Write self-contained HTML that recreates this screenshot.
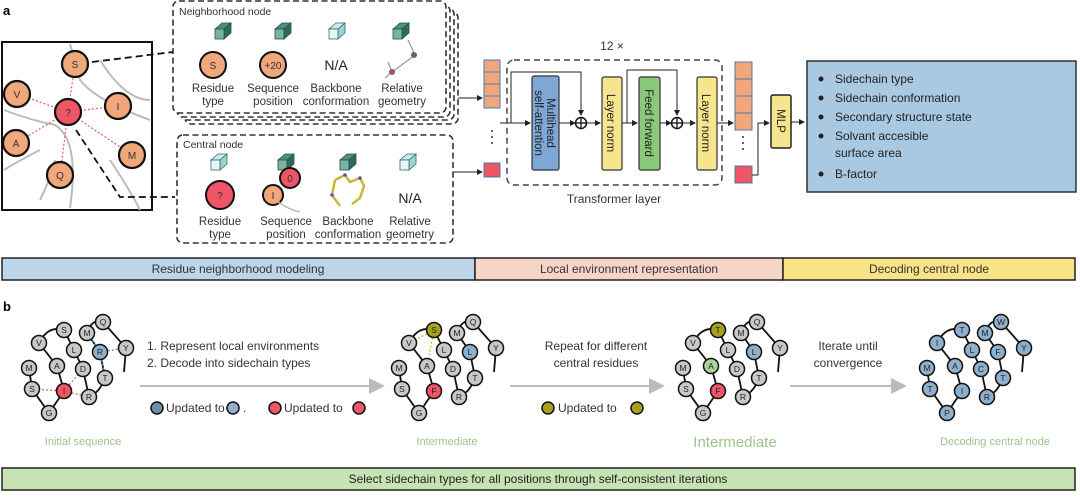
<!DOCTYPE html>
<html><head><meta charset="utf-8"><style>
body{margin:0;background:#fff}
svg{display:block;font-family:"Liberation Sans",sans-serif}
</style></head><body>
<svg width="1080" height="497" viewBox="0 0 1080 497" xmlns="http://www.w3.org/2000/svg">
<defs>
<g id="cube"><polygon points="-7,-3 0,-9 9,-9 2,-3" fill="#4f8f7f" stroke="#24524a" stroke-width="0.8"/><polygon points="2,-3 9,-9 9,1 2,7" fill="#2f6b5d" stroke="#24524a" stroke-width="0.8"/><rect x="-7" y="-3" width="9" height="10" fill="#7ab3a4" stroke="#24524a" stroke-width="0.8"/></g>
<g id="cubeL"><polygon points="-7,-3 0,-9 9,-9 2,-3" fill="#cfe9ea" stroke="#2e6d74" stroke-width="0.8"/><polygon points="2,-3 9,-9 9,1 2,7" fill="#9fd1d3" stroke="#2e6d74" stroke-width="0.8"/><rect x="-7" y="-3" width="9" height="10" fill="#e8f6f6" stroke="#2e6d74" stroke-width="0.8"/></g>
<marker id="ar" markerWidth="6" markerHeight="6" refX="5" refY="3" orient="auto"><path d="M0,0 L6,3 L0,6z" fill="#222"/></marker>
<marker id="ag" markerWidth="8" markerHeight="8" refX="7" refY="4" orient="auto"><path d="M0,0 L8,4 L0,8z" fill="#bbb"/></marker>
</defs>

<text x="3" y="15" font-size="13" font-weight="bold">a</text>
<rect x="2" y="42" width="150" height="168" fill="#fff" stroke="#111" stroke-width="2"/>
<g fill="none" stroke="#bbb" stroke-width="2">
<path d="M70,44 Q75,60 80,80 Q95,100 150,120"/><path d="M4,110 Q30,120 55,125 Q80,140 70,208"/>
<path d="M100,60 Q125,100 150,100"/><path d="M4,170 Q20,160 40,150"/><path d="M110,160 Q130,190 140,210"/><path d="M40,200 Q50,180 55,160"/>
</g>
<g stroke="#e05a6a" stroke-dasharray="2,2" stroke-width="1.2">
<line x1="68" y1="112" x2="75" y2="64"/><line x1="68" y1="112" x2="17" y2="94"/><line x1="68" y1="112" x2="118" y2="106"/><line x1="68" y1="112" x2="16" y2="143"/><line x1="68" y1="112" x2="132" y2="155"/><line x1="68" y1="112" x2="60" y2="175"/>
</g>
<path d="M92,62 L173,52" stroke="#111" stroke-width="1.8" stroke-dasharray="7,4" fill="none"/>
<path d="M76,130 L120,197 L175,197" stroke="#111" stroke-width="1.8" stroke-dasharray="7,4" fill="none"/>
<g stroke="#111" stroke-width="2.2">
<circle cx="75" cy="64" r="13" fill="#f0a77c"/><circle cx="17" cy="94" r="13" fill="#f0a77c"/><circle cx="68" cy="112" r="13" fill="#ee5566"/><circle cx="118" cy="106" r="13" fill="#f0a77c"/><circle cx="16" cy="143" r="13" fill="#f0a77c"/><circle cx="132" cy="155" r="13" fill="#f0a77c"/><circle cx="60" cy="175" r="13" fill="#f0a77c"/>
</g>
<g font-size="10" text-anchor="middle" fill="#333">
<text x="75" y="68">S</text><text x="17" y="98">V</text><text x="68" y="116">?</text><text x="118" y="110">I</text><text x="16" y="147">A</text><text x="132" y="159">M</text><text x="60" y="179">Q</text>
</g>

<g fill="#fff" stroke="#333" stroke-width="1.6" stroke-dasharray="6,3.5">
<rect x="185" y="12" width="273" height="112" rx="6"/>
<rect x="181" y="8" width="273" height="112" rx="6"/>
<rect x="177" y="5" width="273" height="112" rx="6"/>
<rect x="173" y="1" width="273" height="112" rx="6"/>
<rect x="177" y="135" width="276" height="108" rx="6"/>
</g>
<g font-size="10.5" fill="#333">
<text x="179" y="15">Neighborhood node</text>
<text x="183" y="148">Central node</text>
</g>
<use href="#cube" x="222" y="32"/><use href="#cube" x="282" y="32"/><use href="#cubeL" x="336" y="32"/><use href="#cube" x="400" y="32"/>
<use href="#cubeL" x="218" y="163"/><use href="#cube" x="285" y="163"/><use href="#cube" x="347" y="163"/><use href="#cubeL" x="407" y="163"/>
<g stroke="#111" stroke-width="2">
<circle cx="213" cy="65" r="13" fill="#f0a77c"/><circle cx="273" cy="65" r="13" fill="#f0a77c"/>
<circle cx="220" cy="195" r="14" fill="#ee5566"/><circle cx="273" cy="195" r="10" fill="#f0a77c"/><circle cx="290" cy="178" r="10" fill="#ee5566"/>
</g>
<path d="M278,202 Q290,210 300,212" stroke="#bbb" fill="none" stroke-width="1.5"/>
<g font-size="10" text-anchor="middle" fill="#333">
<text x="213" y="69">S</text><text x="273" y="69">+20</text><text x="220" y="199">?</text><text x="273" y="199">I</text><text x="290" y="182">0</text>
</g>
<text x="336" y="70" font-size="14" text-anchor="middle" fill="#222">N/A</text>
<text x="410" y="203" font-size="14" text-anchor="middle" fill="#222">N/A</text>
<g stroke="#999" stroke-width="1.2"><line x1="392" y1="72" x2="415" y2="55"/><line x1="415" y1="55" x2="408" y2="40"/><line x1="392" y1="72" x2="385" y2="78"/><line x1="392" y1="72" x2="388" y2="62"/></g>
<circle cx="392" cy="72" r="3" fill="#a0506a"/><circle cx="414" cy="55" r="3" fill="#666"/>
<path d="M335,180 L345,175 L350,182 L360,178 L364,186 L360,198 L352,204 M335,180 L332,195 L340,206" stroke="#c8b830" stroke-width="2.5" fill="none"/>
<g fill="#6a4fb0"><circle cx="345" cy="175" r="1.8"/><circle cx="360" cy="178" r="1.8"/><circle cx="332" cy="195" r="1.8"/></g>
<g font-size="11.5" text-anchor="middle" fill="#333">
<text x="213" y="92">Residue</text><text x="213" y="105">type</text>
<text x="273" y="92">Sequence</text><text x="273" y="105">position</text>
<text x="336" y="92">Backbone</text><text x="336" y="105">conformation</text>
<text x="402" y="92">Relative</text><text x="402" y="105">geometry</text>
<text x="220" y="225">Residue</text><text x="220" y="238">type</text>
<text x="286" y="225">Sequence</text><text x="286" y="238">position</text>
<text x="348" y="225">Backbone</text><text x="348" y="238">conformation</text>
<text x="410" y="225">Relative</text><text x="410" y="238">geometry</text>
</g>
<line x1="458" y1="98" x2="482" y2="98" stroke="#222" marker-end="url(#ar)"/>
<line x1="453" y1="172" x2="482" y2="172" stroke="#222" marker-end="url(#ar)"/>

<g stroke="#4a78a8" stroke-width="1" fill="#f0a77c">
<rect x="484" y="60" width="16" height="12"/><rect x="484" y="72" width="16" height="12"/><rect x="484" y="84" width="16" height="12"/><rect x="484" y="96" width="16" height="12"/>
<rect x="484" y="163" width="16" height="14" fill="#ee5566"/>
<rect x="735" y="62" width="17" height="17"/><rect x="735" y="79" width="17" height="17"/><rect x="735" y="96" width="17" height="17"/><rect x="735" y="113" width="17" height="17"/>
<rect x="735" y="166" width="17" height="17" fill="#ee5566"/>
</g>
<g fill="#333"><circle cx="492" cy="131" r="1"/><circle cx="492" cy="137" r="1"/><circle cx="492" cy="143" r="1"/>
<circle cx="743" cy="137" r="1"/><circle cx="743" cy="143" r="1"/><circle cx="743" cy="149" r="1"/></g>

<text x="612" y="50" font-size="12" text-anchor="middle" fill="#333">12 ×</text>
<rect x="507" y="60" width="215" height="125" rx="7" fill="none" stroke="#444" stroke-width="1.5" stroke-dasharray="6,4"/>
<text x="614" y="203" font-size="12" text-anchor="middle" fill="#333">Transformer layer</text>
<rect x="532" y="76" width="27" height="94" rx="2" fill="#7fa7d6" stroke="#333" stroke-width="1.2"/>
<rect x="602" y="77" width="20" height="93" rx="2" fill="#f6e58d" stroke="#333" stroke-width="1.2"/>
<rect x="639" y="77" width="21" height="93" rx="2" fill="#8bc97a" stroke="#333" stroke-width="1.2"/>
<rect x="697" y="77" width="20" height="93" rx="2" fill="#f6e58d" stroke="#333" stroke-width="1.2"/>
<g font-size="11.5" fill="#222" text-anchor="middle">
<text transform="translate(547,123) rotate(90)">Multihead</text>
<text transform="translate(535,123) rotate(90)">self-attention</text>
<text transform="translate(607,123) rotate(90)">Layer norm</text>
<text transform="translate(645,123) rotate(90)">Feed forward</text>
<text transform="translate(702,123) rotate(90)">Layer norm</text>
</g>
<g stroke="#222" stroke-width="1" fill="none">
<line x1="500" y1="123" x2="530" y2="123" marker-end="url(#ar)"/>
<line x1="559" y1="123" x2="575" y2="123" marker-end="url(#ar)"/>
<line x1="587" y1="123" x2="600" y2="123" marker-end="url(#ar)"/>
<line x1="622" y1="123" x2="637" y2="123" marker-end="url(#ar)"/>
<line x1="660" y1="123" x2="671" y2="123" marker-end="url(#ar)"/>
<line x1="683" y1="123" x2="695" y2="123" marker-end="url(#ar)"/>
<line x1="717" y1="123" x2="733" y2="123" marker-end="url(#ar)"/>
<polyline points="511,123 511,72 581,72 581,115" marker-end="url(#ar)"/>
<polyline points="627,123 627,70 677,70 677,115" marker-end="url(#ar)"/>
<polyline points="752,175 758,175 758,123 769,123" marker-end="url(#ar)"/>
<line x1="791" y1="122" x2="804" y2="122" marker-end="url(#ar)"/>
</g>
<g stroke="#111" stroke-width="1.5" fill="#fff"><circle cx="581" cy="123" r="5.5"/><circle cx="677" cy="123" r="5.5"/></g>
<g stroke="#111" stroke-width="1.3"><line x1="575.5" y1="123" x2="586.5" y2="123"/><line x1="581" y1="117.5" x2="581" y2="128.5"/><line x1="671.5" y1="123" x2="682.5" y2="123"/><line x1="677" y1="117.5" x2="677" y2="128.5"/></g>
<rect x="771" y="95" width="20" height="53" rx="2" fill="#f6e58d" stroke="#222" stroke-width="1.5"/>
<text transform="translate(777,121) rotate(90)" font-size="11.5" text-anchor="middle" fill="#222">MLP</text>
<rect x="807" y="61" width="269" height="131" fill="#a9c9e3" stroke="#333" stroke-width="1.5"/>
<g font-size="12" fill="#222">
<circle cx="821" cy="79" r="2.5"/><text x="835" y="83">Sidechain type</text>
<circle cx="821" cy="98" r="2.5"/><text x="835" y="102">Sidechain conformation</text>
<circle cx="821" cy="117" r="2.5"/><text x="835" y="121">Secondary structure state</text>
<circle cx="821" cy="136" r="2.5"/><text x="835" y="140">Solvant accesible</text><text x="835" y="157">surface area</text>
<circle cx="821" cy="174" r="2.5"/><text x="835" y="178">B-factor</text>
</g>

<rect x="2" y="258" width="473" height="22" fill="#bcd5e8" stroke="#222" stroke-width="1.5"/>
<rect x="475" y="258" width="308" height="22" fill="#f6d5c8" stroke="#222" stroke-width="1.5"/>
<rect x="783" y="258" width="292" height="22" fill="#f8e387" stroke="#222" stroke-width="1.5"/>
<g font-size="12" text-anchor="middle" fill="#333">
<text x="238" y="273">Residue neighborhood modeling</text>
<text x="629" y="273">Local environment representation</text>
<text x="929" y="273">Decoding central node</text>
</g>

<text x="3" y="311" font-size="13" font-weight="bold">b</text>
<g id="chain1">
<path d="M29,368 L32,389 L49,413 L64,391 L57,366 L39,343 Q48,325 64,330 L74,350 L83,369 L89,397 Q100,392 105,378 L100,352 L87,333 Q92,318 103,322 L126,348 L124,372" fill="none" stroke="#111" stroke-width="1.8"/>
</g>
<g stroke="#e05a6a" stroke-dasharray="2,2" stroke-width="1.2"><line x1="64" y1="391" x2="32" y2="389"/><line x1="64" y1="391" x2="83" y2="369"/><line x1="64" y1="391" x2="89" y2="397"/></g>
<g stroke="#5a88b0" stroke-dasharray="2,2" stroke-width="1.2"><line x1="100" y1="352" x2="87" y2="333"/><line x1="100" y1="352" x2="126" y2="348"/><line x1="100" y1="352" x2="105" y2="378"/></g>
<use href="#chain1" x="370"/><use href="#chain1" x="654"/><use href="#chain1" x="898"/>
<g stroke="#c8b830" stroke-dasharray="2,2" stroke-width="1.2"><line x1="434" y1="330" x2="427" y2="366"/><line x1="434" y1="330" x2="409" y2="343"/></g>

<g font-size="8.5" text-anchor="middle" fill="#222" stroke-width="1.5">
<g>
<circle cx="29" cy="368" r="7.5" fill="#c8c8c8" stroke="#111"/><text x="29" y="371">M</text>
<circle cx="32" cy="389" r="7.5" fill="#c8c8c8" stroke="#111"/><text x="32" y="392">S</text>
<circle cx="49" cy="413" r="7.5" fill="#c8c8c8" stroke="#111"/><text x="49" y="416">G</text>
<circle cx="64" cy="391" r="7.5" fill="#ee5566" stroke="#111"/><text x="64" y="394">I</text>
<circle cx="57" cy="366" r="7.5" fill="#c8c8c8" stroke="#111"/><text x="57" y="369">A</text>
<circle cx="39" cy="343" r="7.5" fill="#c8c8c8" stroke="#111"/><text x="39" y="346">V</text>
<circle cx="64" cy="330" r="7.5" fill="#c8c8c8" stroke="#111"/><text x="64" y="333">S</text>
<circle cx="74" cy="350" r="7.5" fill="#c8c8c8" stroke="#111"/><text x="74" y="353">L</text>
<circle cx="83" cy="369" r="7.5" fill="#c8c8c8" stroke="#111"/><text x="83" y="372">D</text>
<circle cx="89" cy="397" r="7.5" fill="#c8c8c8" stroke="#111"/><text x="89" y="400">R</text>
<circle cx="105" cy="378" r="7.5" fill="#c8c8c8" stroke="#111"/><text x="105" y="381">T</text>
<circle cx="100" cy="352" r="7.5" fill="#8fb0cc" stroke="#111"/><text x="100" y="355">R</text>
<circle cx="87" cy="333" r="7.5" fill="#c8c8c8" stroke="#111"/><text x="87" y="336">M</text>
<circle cx="103" cy="322" r="7.5" fill="#c8c8c8" stroke="#111"/><text x="103" y="325">Q</text>
<circle cx="126" cy="348" r="7.5" fill="#c8c8c8" stroke="#111"/><text x="126" y="351">Y</text>
</g>
<g transform="translate(370,0)">
<circle cx="29" cy="368" r="7.5" fill="#c8c8c8" stroke="#111"/><text x="29" y="371">M</text>
<circle cx="32" cy="389" r="7.5" fill="#c8c8c8" stroke="#111"/><text x="32" y="392">S</text>
<circle cx="49" cy="413" r="7.5" fill="#c8c8c8" stroke="#111"/><text x="49" y="416">G</text>
<circle cx="64" cy="391" r="7.5" fill="#ee5566" stroke="#111"/><text x="64" y="394">F</text>
<circle cx="57" cy="366" r="7.5" fill="#c8c8c8" stroke="#111"/><text x="57" y="369">A</text>
<circle cx="39" cy="343" r="7.5" fill="#c8c8c8" stroke="#111"/><text x="39" y="346">V</text>
<circle cx="64" cy="330" r="7.5" fill="#a8a020" stroke="#111"/><text x="64" y="333">S</text>
<circle cx="74" cy="350" r="7.5" fill="#c8c8c8" stroke="#111"/><text x="74" y="353">L</text>
<circle cx="83" cy="369" r="7.5" fill="#c8c8c8" stroke="#111"/><text x="83" y="372">D</text>
<circle cx="89" cy="397" r="7.5" fill="#c8c8c8" stroke="#111"/><text x="89" y="400">R</text>
<circle cx="105" cy="378" r="7.5" fill="#c8c8c8" stroke="#111"/><text x="105" y="381">T</text>
<circle cx="100" cy="352" r="7.5" fill="#8fb0cc" stroke="#111"/><text x="100" y="355">L</text>
<circle cx="87" cy="333" r="7.5" fill="#c8c8c8" stroke="#111"/><text x="87" y="336">M</text>
<circle cx="103" cy="322" r="7.5" fill="#c8c8c8" stroke="#111"/><text x="103" y="325">Q</text>
<circle cx="126" cy="348" r="7.5" fill="#c8c8c8" stroke="#111"/><text x="126" y="351">Y</text>
</g>
<g transform="translate(654,0)">
<circle cx="29" cy="368" r="7.5" fill="#c8c8c8" stroke="#111"/><text x="29" y="371">M</text>
<circle cx="32" cy="389" r="7.5" fill="#c8c8c8" stroke="#111"/><text x="32" y="392">S</text>
<circle cx="49" cy="413" r="7.5" fill="#c8c8c8" stroke="#111"/><text x="49" y="416">G</text>
<circle cx="64" cy="391" r="7.5" fill="#ee5566" stroke="#111"/><text x="64" y="394">F</text>
<circle cx="57" cy="366" r="7.5" fill="#a6d49a" stroke="#111"/><text x="57" y="369">A</text>
<circle cx="39" cy="343" r="7.5" fill="#c8c8c8" stroke="#111"/><text x="39" y="346">V</text>
<circle cx="64" cy="330" r="7.5" fill="#a8a020" stroke="#111"/><text x="64" y="333">T</text>
<circle cx="74" cy="350" r="7.5" fill="#c8c8c8" stroke="#111"/><text x="74" y="353">L</text>
<circle cx="83" cy="369" r="7.5" fill="#c8c8c8" stroke="#111"/><text x="83" y="372">D</text>
<circle cx="89" cy="397" r="7.5" fill="#c8c8c8" stroke="#111"/><text x="89" y="400">R</text>
<circle cx="105" cy="378" r="7.5" fill="#c8c8c8" stroke="#111"/><text x="105" y="381">T</text>
<circle cx="100" cy="352" r="7.5" fill="#8fb0cc" stroke="#111"/><text x="100" y="355">L</text>
<circle cx="87" cy="333" r="7.5" fill="#c8c8c8" stroke="#111"/><text x="87" y="336">M</text>
<circle cx="103" cy="322" r="7.5" fill="#c8c8c8" stroke="#111"/><text x="103" y="325">Q</text>
<circle cx="126" cy="348" r="7.5" fill="#c8c8c8" stroke="#111"/><text x="126" y="351">Y</text>
</g>
<g transform="translate(898,0)">
<circle cx="29" cy="368" r="7.5" fill="#8fb0cc" stroke="#111"/><text x="29" y="371">M</text>
<circle cx="32" cy="389" r="7.5" fill="#8fb0cc" stroke="#111"/><text x="32" y="392">T</text>
<circle cx="49" cy="413" r="7.5" fill="#8fb0cc" stroke="#111"/><text x="49" y="416">P</text>
<circle cx="64" cy="391" r="7.5" fill="#8fb0cc" stroke="#111"/><text x="64" y="394">I</text>
<circle cx="57" cy="366" r="7.5" fill="#8fb0cc" stroke="#111"/><text x="57" y="369">A</text>
<circle cx="39" cy="343" r="7.5" fill="#8fb0cc" stroke="#111"/><text x="39" y="346">I</text>
<circle cx="64" cy="330" r="7.5" fill="#8fb0cc" stroke="#111"/><text x="64" y="333">T</text>
<circle cx="74" cy="350" r="7.5" fill="#8fb0cc" stroke="#111"/><text x="74" y="353">L</text>
<circle cx="83" cy="369" r="7.5" fill="#8fb0cc" stroke="#111"/><text x="83" y="372">C</text>
<circle cx="89" cy="397" r="7.5" fill="#8fb0cc" stroke="#111"/><text x="89" y="400">R</text>
<circle cx="105" cy="378" r="7.5" fill="#8fb0cc" stroke="#111"/><text x="105" y="381">T</text>
<circle cx="100" cy="352" r="7.5" fill="#8fb0cc" stroke="#111"/><text x="100" y="355">F</text>
<circle cx="87" cy="333" r="7.5" fill="#8fb0cc" stroke="#111"/><text x="87" y="336">M</text>
<circle cx="103" cy="322" r="7.5" fill="#8fb0cc" stroke="#111"/><text x="103" y="325">W</text>
<circle cx="126" cy="348" r="7.5" fill="#8fb0cc" stroke="#111"/><text x="126" y="351">Y</text>
</g>
</g>

<g stroke="#bbb" stroke-width="2">
<line x1="140" y1="386" x2="383" y2="386" marker-end="url(#ag)"/>
<line x1="510" y1="386" x2="663" y2="386" marker-end="url(#ag)"/>
<line x1="790" y1="386" x2="905" y2="386" marker-end="url(#ag)"/>
</g>
<g font-size="12" fill="#333">
<text x="147" y="350">1.  Represent local environments</text>
<text x="147" y="367">2.  Decode into sidechain types</text>
<text x="596" y="350" text-anchor="middle">Repeat for different</text>
<text x="596" y="367" text-anchor="middle">central residues</text>
<text x="848" y="350" text-anchor="middle">Iterate until</text>
<text x="848" y="367" text-anchor="middle">convergence</text>
</g>
<g stroke="#111" stroke-width="1.5">
<circle cx="157" cy="408" r="6" fill="#6f90ad"/><circle cx="233" cy="408" r="6" fill="#8fb0cc"/>
<circle cx="275" cy="408" r="6" fill="#ee5566"/><circle cx="359" cy="408" r="6" fill="#ee5566"/>
<circle cx="548" cy="408" r="6" fill="#a8a020"/><circle cx="637" cy="408" r="6" fill="#a8a020"/>
</g>
<g font-size="12" fill="#333">
<text x="166" y="412">Updated to</text><text x="243" y="412">.</text><text x="284" y="412">Updated to</text>
<text x="558" y="412">Updated to</text>
</g>
<g fill="#9cc48c" text-anchor="middle">
<text x="83" y="445" font-size="11">Initial sequence</text>
<text x="447" y="445" font-size="11">Intermediate</text>
<text x="735" y="447" font-size="15">Intermediate</text>
<text x="995" y="445" font-size="11">Decoding central node</text>
</g>
<rect x="2" y="468" width="1073" height="22" fill="#c6e3b4" stroke="#222" stroke-width="1.5"/>
<text x="538" y="483" font-size="12" text-anchor="middle" fill="#222">Select sidechain types for all positions through self-consistent iterations</text>
</svg>
</body></html>
